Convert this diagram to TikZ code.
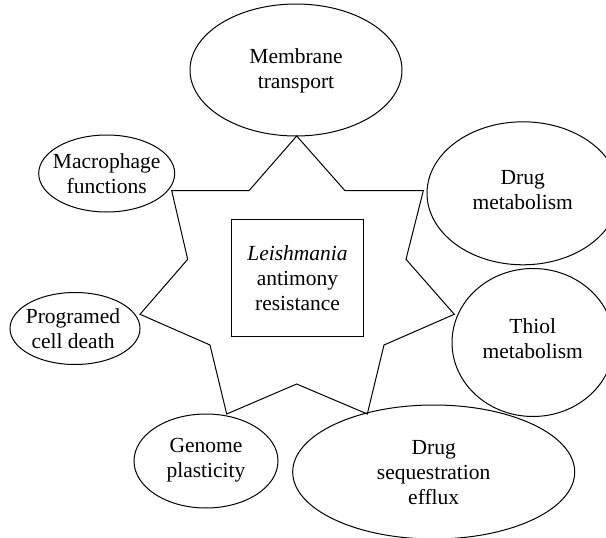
\documentclass[tikz,border=0pt]{standalone}
\usepackage{fontspec}
\setmainfont{Liberation Serif}
\usetikzlibrary{shapes.geometric}
\begin{document}
\begin{tikzpicture}[x=1pt,y=-1pt,
  bubble/.style={draw, ellipse, inner sep=0pt, line width=1pt},
  lbl/.style={inner sep=0pt, align=center, font=\fontsize{21.5}{25}\selectfont},
  centerbox/.style={draw, rectangle, minimum width=131.6pt, minimum height=116.7pt, inner sep=0pt, align=center, line width=1pt, font=\fontsize{21.5}{25}\selectfont},
  starline/.style={line width=1pt, line join=miter}]
\useasboundingbox (0,0) rectangle (606,538);
\clip (0,0) rectangle (606,538);
% ellipses
\node[bubble, minimum width=212pt, minimum height=132pt] (mem) at (296,70) {};
\node[lbl] (memT) at (296,71) {Membrane\\transport};
\node[bubble, minimum width=136pt, minimum height=77pt] (mac) at (106.7,173.5) {};
\node[lbl] (macT) at (106.7,173.5) {Macrophage\\functions};
\node[bubble, minimum width=192pt, minimum height=143pt] (dmet) at (523,193.3) {};
\node[lbl] (dmetT) at (522.7,190) {Drug\\metabolism};
\node[bubble, minimum width=130pt, minimum height=72pt] (pcd) at (75,328.5) {};
\node[lbl] (pcdT) at (73,328.5) {Programed\\cell death};
\node[bubble, minimum width=162pt, minimum height=148pt] (thiol) at (533,342.5) {};
\node[lbl] (thiolT) at (532.7,339) {Thiol\\metabolism};
\node[bubble, minimum width=144pt, minimum height=94pt] (gen) at (206,461) {};
\node[lbl] (genT) at (206,460) {Genome\\plasticity};
\node[bubble, minimum width=282pt, minimum height=134pt] (dse) at (433.7,472) {};
\node[lbl] (dseT) at (433.7,473) {Drug\\sequestration\\efflux};
% central box
\node[centerbox] (core) at (297.5,277.7) {\textit{Leishmania}\\antimony\\resistance};
% star
\coordinate (t1) at (296.7,136);
\coordinate (i1) at (345,190.7);
\coordinate (t2) at (423.3,190.7);
\coordinate (i2) at (406,259.3);
\coordinate (t3) at (454.3,314.3);
\coordinate (i3) at (384,345);
\coordinate (t4) at (367.3,414);
\coordinate (i4) at (296.7,384);
\coordinate (t5) at (226.7,414);
\coordinate (i5) at (210,345);
\coordinate (t6) at (140,314.3);
\coordinate (i6) at (187.7,259.3);
\coordinate (t7) at (171.7,190.7);
\coordinate (i7) at (249,190.7);
\draw[starline] (t1) -- (i1) -- (t2) -- (i2) -- (t3) -- (i3) -- (t4) -- (i4)
  -- (t5) -- (i5) -- (t6) -- (i6) -- (t7) -- (i7) -- cycle;
\end{tikzpicture}
\end{document}
